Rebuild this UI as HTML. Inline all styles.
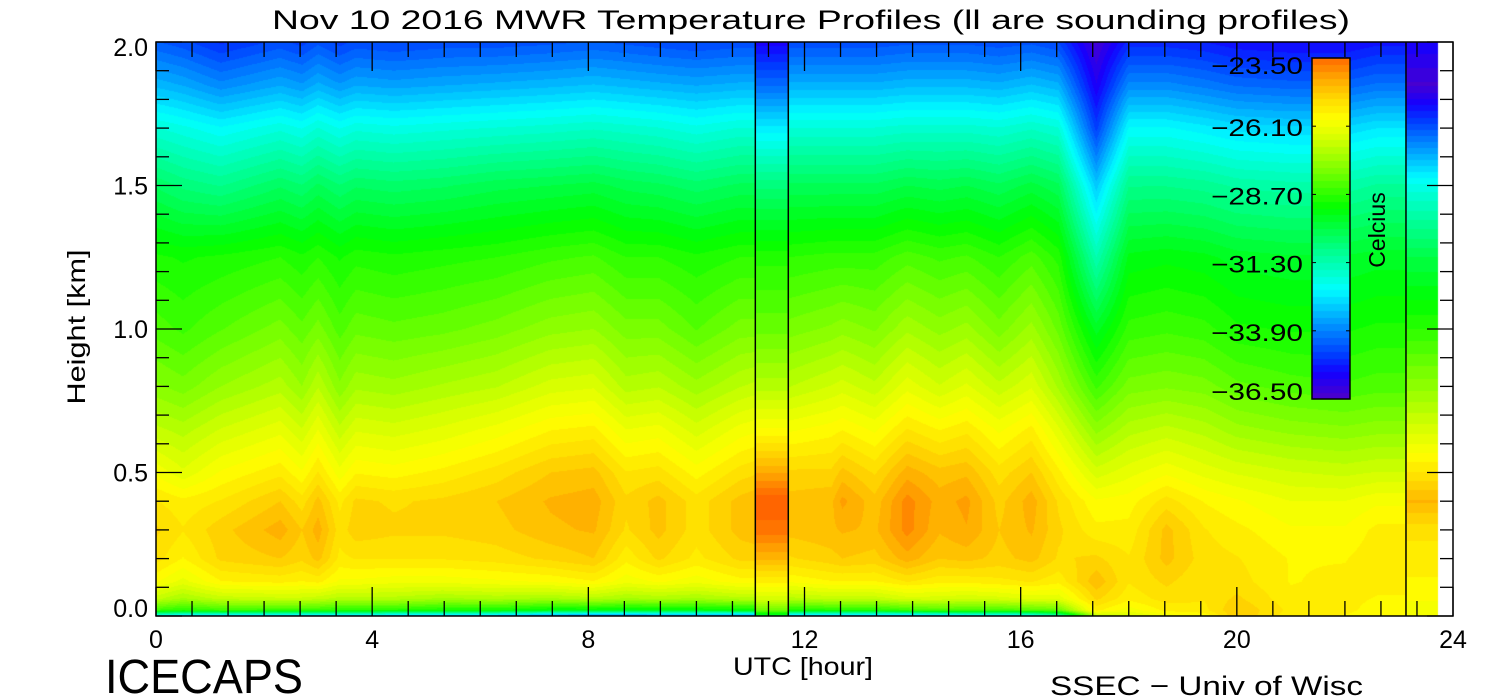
<!DOCTYPE html>
<html><head><meta charset="utf-8"><style>
html,body{margin:0;padding:0;background:#fff;}
#wrap{position:relative;width:1500px;height:700px;overflow:hidden;}
canvas,svg{position:absolute;left:0;top:0;}
text{font-family:"Liberation Sans",sans-serif;fill:#000;}
</style></head><body>
<div id="wrap">
<canvas id="cv" width="1500" height="700"></canvas>
<svg id="sv" width="1500" height="700"></svg>
</div>
<script>
// ---- data ----
const heights = [0, 0.02, 0.06, 0.12, 0.2, 0.3, 0.4, 0.5, 0.65, 0.8, 1.0, 1.25, 1.5, 1.7, 1.85, 2.0];
const mwrTimesA = [0,0.5,1.2,2.3,2.7,3.0,3.4,3.7,4.4,5.3,6.3,7.3,8.1,8.7,9.3,10.0,10.8,11.09];
const mwrProfilesA = [
[-32.5,-28.5,-26.8,-25.8,-25.2,-25.0,-25.3,-25.9,-26.8,-27.6,-28.3,-28.9,-30.3,-31.8,-33.2,-34.4],
[-33,-28.8,-27.2,-26.2,-25.6,-25.3,-25.5,-26.3,-27.0,-27.8,-28.5,-29.0,-30.6,-32.0,-33.4,-34.6],
[-33,-28.5,-26.8,-25.6,-25.0,-24.9,-25.3,-25.8,-26.6,-27.4,-28.2,-28.9,-30.8,-32.3,-33.8,-35.0],
[-33,-28.6,-26.7,-25.5,-24.8,-24.4,-24.8,-25.4,-26.2,-27.0,-27.8,-28.7,-30.3,-31.9,-33.4,-34.6],
[-33,-28.6,-26.7,-25.6,-25.0,-24.8,-25.2,-25.8,-26.6,-27.4,-28.1,-28.9,-30.5,-32.1,-33.6,-34.8],
[-33,-28.6,-26.8,-25.5,-24.7,-24.4,-24.7,-25.3,-26.1,-26.9,-27.8,-28.7,-30.2,-31.8,-33.3,-34.5],
[-33,-28.8,-27,-25.9,-25.4,-25.2,-25.4,-26.0,-26.8,-27.6,-28.3,-29.0,-30.5,-32.1,-33.6,-34.8],
[-33,-28.8,-27,-25.9,-25.3,-24.9,-25.0,-25.6,-26.4,-27.2,-28.0,-28.8,-30.3,-31.9,-33.4,-34.6],
[-33.3,-28.8,-27,-26,-25.3,-25.0,-25.1,-25.7,-26.5,-27.3,-28.1,-28.9,-30.4,-32.0,-33.5,-34.7],
[-33.5,-29,-27.2,-26,-25.3,-25.0,-25.0,-25.5,-26.3,-27.1,-28.0,-28.8,-30.3,-31.9,-33.4,-34.6],
[-33.5,-29,-27.1,-25.9,-25.2,-24.9,-24.8,-25.2,-26.0,-26.9,-27.8,-28.7,-30.1,-31.8,-33.3,-34.6],
[-34,-29.3,-27.2,-25.8,-25.0,-24.6,-24.5,-24.8,-25.6,-26.5,-27.5,-28.5,-30.0,-31.7,-33.2,-34.5],
[-34.3,-29.3,-27,-25.6,-24.8,-24.5,-24.4,-24.7,-25.5,-26.4,-27.4,-28.4,-29.9,-31.6,-33.1,-34.4],
[-34.3,-29.4,-27.2,-26,-25.5,-25.1,-25.0,-25.3,-26.1,-27.0,-27.8,-28.7,-30.1,-31.7,-33.2,-34.5],
[-34,-29.3,-27.1,-25.8,-25.0,-24.7,-24.7,-25.2,-26.0,-26.9,-27.8,-28.7,-30.2,-31.8,-33.3,-34.6],
[-34,-29.3,-27.2,-26,-25.4,-25.2,-25.2,-25.7,-26.5,-27.3,-28.2,-28.9,-30.4,-32.0,-33.4,-34.7],
[-34,-29.2,-27,-25.7,-25.0,-24.7,-24.7,-25.2,-26.0,-26.9,-27.8,-28.7,-30.2,-31.8,-33.3,-34.6],
[-34,-29.2,-27,-25.7,-25.0,-24.6,-24.6,-25.1,-25.9,-26.8,-27.8,-28.7,-30.2,-31.8,-33.3,-34.6]
];
const mwrTimesB = [11.7,12.5,12.7,13.3,13.9,14.5,15.0,15.6,16.2,16.7,17.4,18.0,18.7,19.4,20.0,21,22,22.6,23.13];
const mwrProfilesB = [
[-33.5,-29,-27,-25.8,-25.1,-24.7,-24.7,-25.0,-25.9,-26.9,-27.8,-28.7,-30.2,-31.8,-33.3,-34.6],
[-33.5,-28.8,-26.8,-25.6,-24.9,-24.6,-24.6,-25.0,-25.7,-26.6,-27.6,-28.6,-30.2,-31.8,-33.3,-34.6],
[-33.5,-28.8,-26.8,-25.6,-24.8,-24.5,-24.2,-24.7,-25.6,-26.5,-27.5,-28.6,-30.2,-31.8,-33.3,-34.6],
[-33.5,-28.8,-26.8,-25.6,-24.9,-24.6,-24.7,-25.1,-25.9,-26.8,-27.7,-28.6,-30.2,-31.8,-33.3,-34.6],
[-33.5,-28.5,-26.5,-25.3,-24.4,-23.9,-23.9,-24.4,-25.3,-26.2,-27.2,-28.3,-30.0,-31.7,-33.2,-34.5],
[-33.3,-28.3,-26.5,-25.5,-24.8,-24.5,-24.4,-24.7,-25.6,-26.6,-27.5,-28.5,-30.1,-31.7,-33.2,-34.5],
[-33,-28.4,-26.6,-25.5,-24.7,-24.3,-24.2,-24.6,-25.4,-26.3,-27.3,-28.4,-30.0,-31.7,-33.2,-34.5],
[-33,-28.4,-26.5,-25.4,-24.9,-24.8,-24.9,-25.2,-25.9,-26.8,-27.8,-28.7,-30.2,-31.8,-33.3,-34.6],
[-32.5,-28.2,-26.3,-25.3,-24.7,-24.5,-24.4,-24.8,-25.5,-26.4,-27.3,-28.3,-29.9,-31.6,-33.1,-34.5],
[-31.5,-28,-26.3,-25.5,-25.1,-25.0,-25.1,-25.5,-26.3,-27.2,-28.0,-28.8,-30.2,-31.8,-33.3,-34.7],
[-27,-25.5,-25.0,-24.6,-25.0,-25.5,-25.8,-26.5,-27.5,-28.5,-29.6,-31.3,-33,-34.8,-35.7,-36.3],
[-26.5,-26,-25.5,-25.3,-25.3,-25.5,-25.7,-26.2,-27.0,-27.8,-28.6,-29.4,-30.8,-32.3,-33.8,-35.1],
[-26,-25.5,-25.2,-25.0,-24.7,-24.7,-25.2,-25.9,-26.8,-27.7,-28.5,-29.3,-30.8,-32.3,-33.8,-35.1],
[-25.8,-25.4,-25.3,-25.3,-25.2,-25.3,-25.6,-26.2,-27.0,-27.8,-28.6,-29.4,-30.9,-32.5,-34.0,-35.2],
[-24.8,-24.8,-25.0,-25.2,-25.3,-25.5,-25.8,-26.4,-27.3,-28.1,-28.9,-29.6,-31.1,-32.7,-34.2,-35.4],
[-25.5,-25.4,-25.5,-25.6,-25.6,-25.8,-26.1,-26.6,-27.5,-28.3,-29.0,-29.7,-31.2,-32.8,-34.3,-35.5],
[-25.6,-25.5,-25.5,-25.5,-25.6,-25.8,-26.1,-26.7,-27.6,-28.4,-29.0,-29.7,-31.2,-32.8,-34.3,-35.5],
[-25.8,-25.7,-25.6,-25.5,-25.4,-25.5,-25.9,-26.6,-27.5,-28.3,-28.9,-29.6,-31.0,-32.6,-34.1,-35.3],
[-25.8,-25.7,-25.6,-25.5,-25.4,-25.5,-25.9,-26.6,-27.5,-28.3,-28.9,-29.6,-31.0,-32.6,-34.1,-35.3]
];
const sondeSpans = [[11.09,11.7],[23.13,23.72]];
const sondeProfiles = [
[-30,-28,-26.5,-25.5,-24.5,-23.6,-23.3,-24.3,-25.8,-27,-28,-28.8,-30.6,-32.5,-34.2,-35.6],
[-26,-26,-25.8,-25.6,-25.5,-25.2,-24.5,-25.3,-26.5,-27.5,-28.7,-30,-32,-34.5,-36.3,-35.5]
];
const xTicks = [0,4,8,12,16,20,24];
const yTicks = [0,0.5,1.0,1.5,2.0];
const cbTicks = [-23.5,-26.1,-28.7,-31.3,-33.9,-36.5];

// ---- axes ----
const X0=156,X1=1453,Y0=616,Y1=42;
const xs=t=>X0+(X1-X0)*t/24;
const ys=h=>Y0-(Y0-Y1)*h/2;

const stops=[[-37,[90,0,170]],[-36.5,[80,0,200]],[-35.5,[20,0,255]],[-34.8,[0,60,255]],[-33.9,[0,130,255]],
[-32.3,[0,255,255]],[-30.7,[0,255,130]],[-29.2,[0,255,0]],[-27.8,[120,255,0]],[-26.6,[210,255,0]],
[-25.8,[255,255,0]],[-25.0,[255,215,0]],[-24.3,[255,170,0]],[-23.7,[255,120,0]],[-23.0,[255,80,0]]];
function cmap(v){
  const step=13/50; v=-36.5+Math.floor((v+36.5)/step)*step+step/2;
  if(v<=stops[0][0])return stops[0][1];
  for(let i=1;i<stops.length;i++){if(v<=stops[i][0]){const a=stops[i-1],b=stops[i];const f=(v-a[0])/(b[0]-a[0]);
    return a[1].map((c,k)=>Math.round(c+(b[1][k]-c)*f));}}
  return stops[stops.length-1][1];
}
function profAt(p,h){for(let i=1;i<heights.length;i++){if(h<=heights[i]){const f=(h-heights[i-1])/(heights[i]-heights[i-1]);return p[i-1]+(p[i]-p[i-1])*f;}}return p[p.length-1];}
function valAt(times,profs,t,h){
  let i=1;while(i<times.length-1&&t>times[i])i++;
  const f=Math.max(0,Math.min(1,(t-times[i-1])/(times[i]-times[i-1])));
  return profAt(profs[i-1],h)*(1-f)+profAt(profs[i],h)*f;
}
const cv=document.getElementById('cv');const ctx=cv.getContext('2d');
const img=ctx.createImageData(1500,700);
for(let px=X0;px<X1;px++){
  const t=(px+0.5-X0)/(X1-X0)*24;
  for(let py=Y1;py<Y0;py++){
    const h=(Y0-py-0.5)/(Y0-Y1)*2;let v=null;
    if(t<sondeSpans[0][0])v=valAt(mwrTimesA,mwrProfilesA,t,h);
    else if(t<sondeSpans[0][1])v=profAt(sondeProfiles[0],h);
    else if(t<sondeSpans[1][0])v=valAt(mwrTimesB,mwrProfilesB,t,h);
    else if(t<sondeSpans[1][1])v=profAt(sondeProfiles[1],h);
    if(v===null)continue;
    const c=cmap(v);const o=(py*1500+px)*4;
    img.data[o]=c[0];img.data[o+1]=c[1];img.data[o+2]=c[2];img.data[o+3]=255;
  }
}
// colorbar
for(let py=58;py<399;py++){const v=-23.5-(py-58)/(399-58)*13;const c=cmap(v);
  for(let px=1312;px<1350;px++){const o=(py*1500+px)*4;img.data[o]=c[0];img.data[o+1]=c[1];img.data[o+2]=c[2];img.data[o+3]=255;}}
ctx.putImageData(img,0,0);

const sv=document.getElementById('sv');const NS='http://www.w3.org/2000/svg';
function el(tag,attrs,txt){const e=document.createElementNS(NS,tag);for(const k in attrs)e.setAttribute(k,attrs[k]);if(txt!==undefined)e.textContent=txt;sv.appendChild(e);return e;}
let e;
e=el('rect',{x:X0,y:Y1,width:X1-X0,height:Y0-Y1,fill:'none',stroke:'#000','stroke-width':1.5});


sondeSpans.forEach(s=>{[s[0],s[1]].forEach((t,j)=>{if(j===1&&s===sondeSpans[1])return;
  const l=el('line',{x1:xs(t),x2:xs(t),y1:Y1,y2:Y0,stroke:'#000','stroke-width':1.5});
  
  });});
for(let k=0;k<=36;k++){const t=k*24/36;const maj=k%6===0;const L=maj?29:15;
  el('line',{x1:xs(t),x2:xs(t),y1:Y0,y2:Y0-L,stroke:'#000','stroke-width':1.3});
  el('line',{x1:xs(t),x2:xs(t),y1:Y1,y2:Y1+L,stroke:'#000','stroke-width':1.3});}
xTicks.forEach(t=>{const l=el('text',{x:xs(t),y:648,'text-anchor':'middle','font-size':25},String(t));
  
  });
for(let k=0;k<=20;k++){const h=k*0.1;const maj=k%5===0;const L=maj?26:13;
  el('line',{x1:X0,x2:X0+L,y1:ys(h),y2:ys(h),stroke:'#000','stroke-width':1.3});
  el('line',{x1:X1,x2:X1-L,y1:ys(h),y2:ys(h),stroke:'#000','stroke-width':1.3});}
yTicks.forEach(h=>{let cy=ys(h);if(h===0)cy-=8;if(h===2)cy+=5;
  const l=el('text',{x:148,y:cy+9,'text-anchor':'end','font-size':25},h.toFixed(1));
  
  });
e=el('rect',{x:1312,y:58,width:38,height:341,fill:'none',stroke:'#000','stroke-width':1.5});


cbTicks.forEach((v,i)=>{const cy=58+(-23.5-v)/13*341;
  if(i>0&&i<cbTicks.length-1){el('line',{x1:1312,x2:1316,y1:cy,y2:cy,stroke:'#000'});el('line',{x1:1346,x2:1350,y1:cy,y2:cy,stroke:'#000'});}
  const ly=i===0?cy+16:(i===cbTicks.length-1?cy+1:cy+10);
  const l=el('text',{x:1303,y:ly,'text-anchor':'end','font-size':24,textLength:92,lengthAdjust:'spacingAndGlyphs'},'\u2212'+(-v).toFixed(2));
  
  });
e=el('text',{x:0,y:0,'font-size':23,'text-anchor':'middle',transform:'translate(1385,230) rotate(-90)'},'Celcius');


e=el('text',{x:272,y:29,'font-size':27,textLength:1078,lengthAdjust:'spacingAndGlyphs'},'Nov 10 2016 MWR Temperature Profiles (ll are sounding profiles)');


e=el('text',{x:733,y:675,'font-size':25,textLength:140,lengthAdjust:'spacingAndGlyphs'},'UTC [hour]');


e=el('text',{x:0,y:0,'font-size':25,'text-anchor':'middle',transform:'translate(85,327) rotate(-90)',textLength:155,lengthAdjust:'spacingAndGlyphs'},'Height [km]');


e=el('text',{x:105,y:693,'font-size':48,textLength:198,lengthAdjust:'spacingAndGlyphs'},'ICECAPS');


e=el('text',{x:1050,y:695,'font-size':27,textLength:313,lengthAdjust:'spacingAndGlyphs'},'SSEC \u2212 Univ of Wisc');


</script>
</body></html>
